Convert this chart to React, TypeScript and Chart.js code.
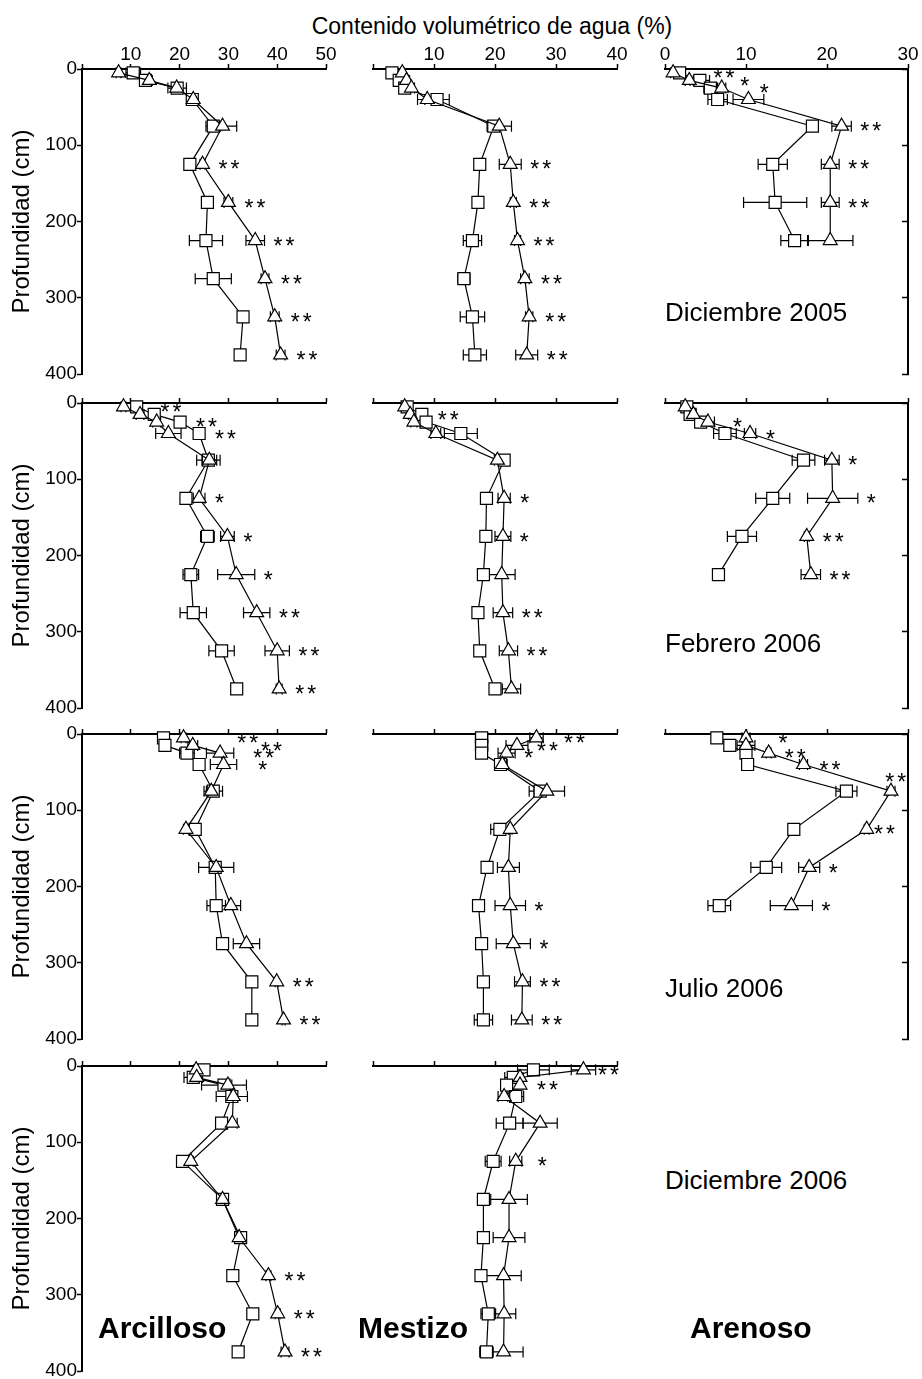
import { useEffect, useRef } from "react";
import { Chart, registerables } from "chart.js";

Chart.register(...registerables);

const FONT = "'Liberation Sans', Arial, Helvetica, sans-serif";
Chart.defaults.font.family = FONT;
Chart.defaults.color = "#000";

// Sampling depths (cm)
const depths = [5, 15, 25, 40, 75, 125, 175, 225, 275, 325, 375];

// ---- Diciembre 2005 ----
const dic05ArcSq = [10.5, 13.0, 19.5, 22.6, 26.9, 22.1, 25.7, 25.4, 26.9, 33.0, 32.4];
const dic05ArcSqSd = [1.5, 0.8, 1.9, 1.0, 1.5, 0.8, 0.8, 3.4, 3.7, 0.8, 0.6];
const dic05ArcTri = [7.5, 13.8, 19.4, 22.8, 28.8, 24.7, 30.0, 35.5, 37.5, 39.5, 40.7];
const dic05ArcTriSd = [0.5, 0.6, 0.8, 0.8, 2.9, 0.5, 0.9, 1.9, 0.8, 0.9, 0.9];
const dic05ArcSig = ["", "", "", "", "", "**", "**", "**", "**", "**", "**"];

const dic05MesSq = [3.1, 4.3, 5.2, 10.5, 19.8, 17.5, 17.2, 16.3, 14.9, 16.3, 16.7];
const dic05MesSqSd = [0.3, 0.5, 0.5, 2.0, 1.0, 0.3, 0.3, 1.5, 1.0, 2.0, 1.9];
const dic05MesTri = [4.8, 5.5, 6.3, 8.9, 20.7, 22.5, 23.0, 23.7, 24.9, 25.6, 25.2];
const dic05MesTriSd = [0.3, 0.5, 0.5, 1.6, 2.0, 1.8, 0.5, 0.5, 0.7, 0.6, 1.8];
const dic05MesSig = ["", "", "", "", "", "**", "**", "**", "**", "**", "**"];

const dic05AreSq = [1.8, 4.3, 5.6, 6.5, 18.2, 13.3, 13.6, 16.0];
const dic05AreSqSd = [0.5, 1.2, 0.8, 1.2, 0.3, 1.8, 3.9, 1.7];
const dic05AreTri = [1.0, 3.0, 7.0, 10.3, 21.8, 20.4, 20.4, 20.4];
const dic05AreTriSd = [0.3, 0.5, 0.5, 1.9, 1.2, 1.1, 1.1, 2.8];
const dic05AreSig = ["**", "*", "*", "", "**", "**", "**", ""];
const dic05AreSigAt = [6.0, 9.3, 11.7, null, null, null, null, null];

// ---- Febrero 2006 ----
const feb06ArcSq = [11.2, 14.8, 20.1, 24.0, 25.9, 21.3, 25.7, 22.3, 22.8, 28.6, 31.7];
const feb06ArcSqSd = [0.8, 0.8, 0.8, 0.5, 2.4, 0.6, 1.4, 1.6, 2.7, 2.6, 0.3];
const feb06ArcTri = [8.5, 11.9, 15.3, 17.7, 26.1, 24.0, 29.8, 31.6, 35.8, 40.0, 40.4];
const feb06ArcTriSd = [0.5, 0.8, 0.8, 2.6, 1.5, 1.2, 1.4, 3.8, 2.7, 2.5, 0.6];
const feb06ArcSig = ["**", "", "**", "**", "", "*", "*", "*", "**", "**", "**"];
const feb06ArcSigAt = [16.1, null, null, null, null, null, null, null, null, null, null];

const feb06MesSq = [5.6, 8.0, 8.7, 14.4, 21.5, 18.6, 18.5, 18.1, 17.2, 17.5, 20.0];
const feb06MesSqSd = [0.3, 0.5, 0.5, 2.7, 0.5, 0.3, 0.3, 0.3, 0.3, 0.3, 0.5];
const feb06MesTri = [5.2, 6.1, 6.7, 10.3, 20.4, 21.5, 21.3, 21.1, 21.3, 22.2, 22.7];
const feb06MesTriSd = [0.3, 0.3, 0.5, 0.8, 0.5, 1.0, 1.3, 2.2, 1.6, 1.5, 1.5];
const feb06MesSig = ["", "**", "", "", "", "*", "*", "", "**", "**", ""];

const feb06AreSq = [2.7, 3.1, 4.4, 7.4, 17.1, 13.3, 9.5, 6.6];
const feb06AreSqSd = [0.3, 0.3, 0.3, 1.4, 1.4, 2.1, 1.8, 0.3];
const feb06AreTri = [2.5, 3.5, 5.3, 10.5, 20.6, 20.7, 17.5, 18.0];
const feb06AreTriSd = [0.3, 0.3, 0.8, 0.7, 0.9, 3.1, 0.3, 1.2];
const feb06AreSig = ["", "", "*", "*", "*", "*", "**", "**"];
const feb06AreSigAt = [null, null, 8.4, null, null, null, null, null];

// ---- Julio 2006 ----
const jul06ArcSq = [16.7, 17.0, 21.5, 24.0, 26.9, 23.2, 27.3, 27.5, 28.8, 34.8, 34.8];
const jul06ArcSqSd = [0.5, 0.5, 1.5, 0.5, 1.9, 1.0, 0.5, 1.9, 1.0, 0.3, 0.3];
const jul06ArcTri = [20.8, 22.7, 28.3, 29.0, 26.5, 21.3, 27.5, 30.5, 33.7, 39.9, 41.3];
const jul06ArcTriSd = [0.5, 1.0, 2.8, 2.7, 1.0, 0.5, 3.6, 2.0, 2.7, 0.3, 0.3];
const jul06ArcSig = ["**", "**", "**", "*", "", "", "", "", "", "**", "**"];
const jul06ArcSigAt = [31.8, 36.7, 35.1, 36.1, null, null, null, null, null, null, null];

const jul06MesSq = [17.8, 17.8, 17.8, 20.9, 27.4, 20.8, 18.7, 17.3, 17.8, 18.1, 18.1];
const jul06MesSqSd = [1.0, 1.0, 0.8, 0.5, 1.0, 1.5, 0.5, 0.3, 0.3, 0.3, 1.5];
const jul06MesTri = [26.8, 23.6, 21.9, 21.2, 28.5, 22.5, 22.2, 22.5, 23.0, 24.5, 24.4];
const jul06MesTriSd = [1.1, 1.8, 1.4, 0.8, 2.9, 0.3, 1.8, 2.5, 2.8, 1.3, 1.7];
const jul06MesSig = ["**", "**", "*", "", "", "", "", "*", "*", "**", "**"];
const jul06MesSigAt = [31.3, null, null, null, null, null, null, null, null, null, null];

const jul06AreSq = [6.4, 8.0, 10.0, 10.2, 22.4, 15.9, 12.5, 6.7];
const jul06AreSqSd = [0.3, 0.3, 0.3, 0.3, 1.3, 0.3, 1.9, 1.4];
const jul06AreTri = [10.0, 10.0, 12.8, 17.1, 27.9, 24.9, 17.8, 15.6];
const jul06AreTriSd = [0.5, 1.1, 0.3, 0.5, 0.5, 0.3, 1.3, 2.6];
const jul06AreSig = ["*", "", "**", "**", "**", "**", "*", "*"];
const jul06AreSigAt = [14.0, null, null, null, 27.2, 25.8, null, null];
const jul06AreSigDepth = [null, null, null, null, 56, null, null, null];

// ---- Diciembre 2006 ----
const dic06ArcSq = [25.0, 22.8, 29.1, 30.7, 28.6, 20.6, 28.8, 32.5, 30.9, 35.0, 32.0];
const dic06ArcSqSd = [1.0, 1.9, 4.6, 3.2, 0.5, 0.5, 0.5, 0.8, 0.5, 0.8, 0.5];
const dic06ArcTri = [23.4, 23.5, 29.9, 31.0, 30.8, 22.3, 28.8, 32.2, 38.2, 40.1, 41.6];
const dic06ArcTriSd = [0.5, 0.5, 0.8, 0.8, 1.0, 0.5, 0.5, 0.8, 0.5, 0.5, 0.8];
const dic06ArcSig = ["", "", "", "", "", "", "", "", "**", "**", "**"];

const dic06MesSq = [26.3, 23.0, 21.9, 23.4, 22.4, 19.7, 18.1, 18.1, 17.7, 18.9, 18.6];
const dic06MesSqSd = [2.6, 1.4, 0.5, 1.3, 2.2, 1.3, 0.5, 0.5, 0.5, 1.2, 1.1];
const dic06MesTri = [34.5, 24.1, 24.1, 21.5, 27.4, 23.4, 22.3, 22.3, 21.4, 21.5, 21.4];
const dic06MesTriSd = [2.0, 0.5, 0.5, 1.0, 2.8, 1.0, 3.0, 2.6, 2.9, 1.9, 3.2];
const dic06MesSig = ["**", "", "**", "", "", "*", "", "", "", "", ""];
const dic06MesSigAt = [36.9, null, 26.9, null, null, 27.0, null, null, null, null, null];

const depthTickStep = 100;
const xTickStep = 10;
const xMaxByCol = [50, 40, 30];

// Panel layout (page pixels)
const ROW_TOPS = [69, 403, 734, 1066];
const PLOT_H = 305;
const AXIS_H = 40;
const PAD_BOTTOM = 14;
const CANVAS_H = AXIS_H + PLOT_H + PAD_BOTTOM;
const COLS = [
  { left: 0, width: 340, padLeft: 0, padRight: 14 },
  { left: 340, width: 300, padLeft: 33, padRight: 23 },
  { left: 640, width: 282, padLeft: 25, padRight: 0 },
];

type Num = number | null;
interface PanelSpec {
  row: number;
  col: number;
  sq: number[];
  sqSd: number[];
  tri: number[];
  triSd: number[];
  sig: string[];
  sigAt?: Num[];
  sigDepth?: Num[];
}

const PANELS: PanelSpec[] = [
  { row: 0, col: 0, sq: dic05ArcSq, sqSd: dic05ArcSqSd, tri: dic05ArcTri, triSd: dic05ArcTriSd, sig: dic05ArcSig },
  { row: 0, col: 1, sq: dic05MesSq, sqSd: dic05MesSqSd, tri: dic05MesTri, triSd: dic05MesTriSd, sig: dic05MesSig },
  { row: 0, col: 2, sq: dic05AreSq, sqSd: dic05AreSqSd, tri: dic05AreTri, triSd: dic05AreTriSd, sig: dic05AreSig, sigAt: dic05AreSigAt },
  { row: 1, col: 0, sq: feb06ArcSq, sqSd: feb06ArcSqSd, tri: feb06ArcTri, triSd: feb06ArcTriSd, sig: feb06ArcSig, sigAt: feb06ArcSigAt },
  { row: 1, col: 1, sq: feb06MesSq, sqSd: feb06MesSqSd, tri: feb06MesTri, triSd: feb06MesTriSd, sig: feb06MesSig },
  { row: 1, col: 2, sq: feb06AreSq, sqSd: feb06AreSqSd, tri: feb06AreTri, triSd: feb06AreTriSd, sig: feb06AreSig, sigAt: feb06AreSigAt },
  { row: 2, col: 0, sq: jul06ArcSq, sqSd: jul06ArcSqSd, tri: jul06ArcTri, triSd: jul06ArcTriSd, sig: jul06ArcSig, sigAt: jul06ArcSigAt },
  { row: 2, col: 1, sq: jul06MesSq, sqSd: jul06MesSqSd, tri: jul06MesTri, triSd: jul06MesTriSd, sig: jul06MesSig, sigAt: jul06MesSigAt },
  { row: 2, col: 2, sq: jul06AreSq, sqSd: jul06AreSqSd, tri: jul06AreTri, triSd: jul06AreTriSd, sig: jul06AreSig, sigAt: jul06AreSigAt, sigDepth: jul06AreSigDepth },
  { row: 3, col: 0, sq: dic06ArcSq, sqSd: dic06ArcSqSd, tri: dic06ArcTri, triSd: dic06ArcTriSd, sig: dic06ArcSig },
  { row: 3, col: 1, sq: dic06MesSq, sqSd: dic06MesSqSd, tri: dic06MesTri, triSd: dic06MesTriSd, sig: dic06MesSig, sigAt: dic06MesSigAt },
];

const CAP = 5.5;
const STAR_SIZE = 23;

// Horizontal error bars with end caps, drawn under the markers
const errorBarPlugin = {
  id: "errorBars",
  beforeDatasetsDraw(chart: any, _args: any, opts: any) {
    const { ctx } = chart;
    const xs = chart.scales.x;
    const ys = chart.scales.y;
    ctx.save();
    ctx.strokeStyle = "#000";
    ctx.lineWidth = 1.2;
    chart.data.datasets.forEach((ds: any, di: number) => {
      const sd: number[] = opts.sd[di];
      ds.data.forEach((p: any, i: number) => {
        const e = sd[i];
        if (!e) return;
        const py = ys.getPixelForValue(p.y);
        const x0 = xs.getPixelForValue(p.x - e);
        const x1 = xs.getPixelForValue(p.x + e);
        ctx.beginPath();
        ctx.moveTo(x0, py);
        ctx.lineTo(x1, py);
        ctx.moveTo(x0, py - CAP);
        ctx.lineTo(x0, py + CAP);
        ctx.moveTo(x1, py - CAP);
        ctx.lineTo(x1, py + CAP);
        ctx.stroke();
      });
    });
    ctx.restore();
  },
};

// Significance asterisks beside each depth
const starPlugin = {
  id: "stars",
  afterDatasetsDraw(chart: any, _args: any, opts: any) {
    const { ctx } = chart;
    const xs = chart.scales.x;
    const ys = chart.scales.y;
    const marks: string[] = opts.marks;
    ctx.save();
    ctx.fillStyle = "#000";
    ctx.font = `${STAR_SIZE}px ${FONT}`;
    ctx.textAlign = "left";
    ctx.textBaseline = "alphabetic";
    marks.forEach((m, i) => {
      if (!m) return;
      let px: number;
      const at = opts.at ? opts.at[i] : null;
      if (at != null) {
        px = xs.getPixelForValue(at);
      } else {
        let right = -Infinity;
        chart.data.datasets.forEach((ds: any, di: number) => {
          const p = ds.data[i];
          if (!p) return;
          const e = opts.sd[di][i] || 0;
          right = Math.max(right, xs.getPixelForValue(p.x + e), xs.getPixelForValue(p.x) + 7);
        });
        px = right + 9;
      }
      const d = opts.depth && opts.depth[i] != null ? opts.depth[i] : depths[i];
      const py = ys.getPixelForValue(d) + 0.57 * STAR_SIZE;
      for (let k = 0; k < m.length; k++) ctx.fillText("*", px + k * 12, py);
    });
    ctx.restore();
  },
};

function buildConfig(spec: PanelSpec): any {
  const { row, col } = spec;
  const geo = COLS[col];
  const toPts = (vals: number[]) => vals.map((v, i) => ({ x: v, y: depths[i] }));
  const common = {
    showLine: true,
    borderColor: "#000",
    borderWidth: 1.2,
    pointBackgroundColor: "#fff",
    pointBorderColor: "#000",
    pointBorderWidth: 1.2,
    clip: false,
  };

  let yScale: any;
  if (col === 0) {
    yScale = {
      type: "linear",
      position: "left",
      min: 0,
      max: 400,
      reverse: true,
      afterFit: (s: any) => {
        s.width = 82;
      },
      ticks: { stepSize: depthTickStep, padding: 0, font: { size: 19, lineHeight: 1 }, color: "#000" },
      grid: { drawOnChartArea: false, drawTicks: true, tickLength: 5, tickColor: "#000", tickWidth: 1.5 },
      border: { color: "#000", width: 2 },
      title: { display: true, text: "Profundidad (cm)", font: { size: 24 }, color: "#000", padding: { top: 8, bottom: 0 } },
    };
  } else if (col === 1) {
    yScale = { type: "linear", display: false, min: 0, max: 400, reverse: true };
  } else {
    yScale = {
      type: "linear",
      position: "right",
      min: 0,
      max: 400,
      reverse: true,
      afterFit: (s: any) => {
        s.width = 14;
      },
      ticks: { stepSize: depthTickStep, display: false },
      grid: { drawOnChartArea: false, drawTicks: true, tickLength: -6, tickColor: "#000", tickWidth: 1.5 },
      border: { color: "#000", width: 2 },
    };
  }

  return {
    type: "scatter",
    data: {
      datasets: [
        { ...common, label: "tri", data: toPts(spec.tri), pointStyle: "triangle", pointRadius: 8 },
        { ...common, label: "sq", data: toPts(spec.sq), pointStyle: "rect", pointRadius: 8.5 },
      ],
    },
    options: {
      animation: false,
      responsive: false,
      devicePixelRatio: 1,
      layout: { padding: { left: geo.padLeft, right: geo.padRight, top: 0, bottom: PAD_BOTTOM } },
      plugins: {
        legend: { display: false },
        tooltip: { enabled: false },
        errorBars: { sd: [spec.triSd, spec.sqSd] },
        stars: { marks: spec.sig, at: spec.sigAt, depth: spec.sigDepth, sd: [spec.triSd, spec.sqSd] },
      },
      scales: {
        x: {
          type: "linear",
          position: "top",
          min: 0,
          max: xMaxByCol[col],
          afterFit: (s: any) => {
            s.height = AXIS_H;
          },
          ticks: {
            stepSize: xTickStep,
            display: row === 0,
            padding: 0,
            font: { size: 19, lineHeight: 1 },
            color: "#000",
            callback: (v: any) => (col !== 2 && v === 0 ? "" : String(v)),
          },
          grid: { drawOnChartArea: false, drawTicks: true, tickLength: 5, tickColor: "#000", tickWidth: 1.5 },
          border: { color: "#000", width: 2 },
        },
        y: yScale,
      },
    },
    plugins: [errorBarPlugin, starPlugin],
  };
}

function Panel({ spec }: { spec: PanelSpec }) {
  const ref = useRef<HTMLCanvasElement>(null);
  useEffect(() => {
    if (!ref.current) return;
    const chart = new Chart(ref.current, buildConfig(spec));
    return () => chart.destroy();
  }, [spec]);
  const geo = COLS[spec.col];
  const top = ROW_TOPS[spec.row] - AXIS_H;
  return (
    <canvas
      ref={ref}
      width={geo.width}
      height={CANVAS_H}
      style={{ position: "absolute", left: geo.left, top, width: geo.width, height: CANVAS_H }}
    />
  );
}

function Label({ text, left, top, size, bold }: { text: string; left: number; top: number; size: number; bold?: boolean }) {
  return (
    <div
      style={{
        position: "absolute",
        left,
        top,
        fontFamily: FONT,
        fontSize: size,
        lineHeight: 1,
        fontWeight: bold ? 700 : 400,
        whiteSpace: "nowrap",
        color: "#000",
      }}
    >
      {text}
    </div>
  );
}

export default function App() {
  return (
    <div style={{ position: "absolute", left: 0, top: 0, width: 922, height: 1379, background: "#fff", overflow: "hidden" }}>
      <div
        style={{
          position: "absolute",
          left: 192,
          width: 600,
          top: 15,
          textAlign: "center",
          fontFamily: FONT,
          fontSize: 23,
          lineHeight: 1,
          whiteSpace: "nowrap",
        }}
      >
        Contenido volumétrico de agua (%)
      </div>
      {PANELS.map((p, i) => (
        <Panel key={i} spec={p} />
      ))}
      <Label text="Diciembre 2005" left={665} top={299} size={26} />
      <Label text="Febrero 2006" left={665} top={630} size={26} />
      <Label text="Julio 2006" left={665} top={975} size={26} />
      <Label text="Diciembre 2006" left={665} top={1167} size={26} />
      <Label text="Arcilloso" left={98} top={1313} size={30} bold />
      <Label text="Mestizo" left={358} top={1313} size={30} bold />
      <Label text="Arenoso" left={690} top={1313} size={30} bold />
    </div>
  );
}
